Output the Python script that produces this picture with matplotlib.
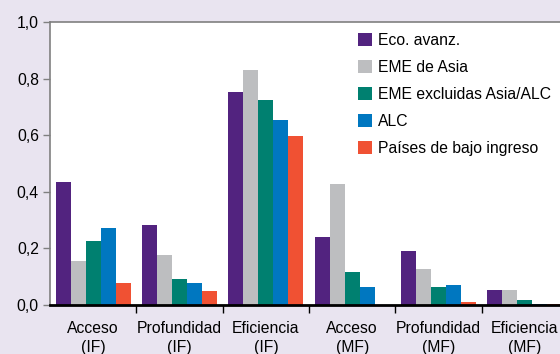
import numpy as np
import matplotlib.pyplot as plt
from matplotlib.patches import Patch

plt.rcParams['font.family'] = ['Liberation Sans', 'DejaVu Sans']

categories = ['Acceso\n(IF)', 'Profundidad\n(IF)', 'Eficiencia\n(IF)',
              'Acceso\n(MF)', 'Profundidad\n(MF)', 'Eficiencia\n(MF)']
series = ['Eco. avanz.', 'EME de Asia', 'EME excluidas Asia/ALC', 'ALC',
          'Países de bajo ingreso']
eco_avanz = [0.435, 0.283, 0.753, 0.240, 0.191, 0.053]
eme_asia = [0.155, 0.177, 0.830, 0.429, 0.127, 0.053]
eme_excl = [0.227, 0.092, 0.724, 0.117, 0.064, 0.018]
alc = [0.272, 0.078, 0.654, 0.064, 0.071, 0.004]
bajo_ingreso = [0.078, 0.049, 0.597, 0.0, 0.011, 0.004]
values = [eco_avanz, eme_asia, eme_excl, alc, bajo_ingreso]
colors = ['#52237F', '#BDBEC0', '#008070', '#0077C0', '#F05133']

W, H = 560, 354
fs = 11.3
fig = plt.figure(figsize=(W / 100, H / 100), dpi=100)
fig.patch.set_facecolor('#E9E4F0')
ax = fig.add_axes([50 / W, (H - 305) / H, 518 / W, 283 / H])

x = np.arange(len(categories))
bw = 0.173
for i, (vals, c) in enumerate(zip(values, colors)):
    ax.bar(x + (i - 2) * bw, vals, width=bw, color=c, linewidth=0)

ax.set_xlim(-0.5, len(categories) - 0.5)
ax.set_ylim(0, 1.0)
ax.set_yticks(np.arange(0, 1.01, 0.2))
ax.set_yticklabels([f'{v:.1f}'.replace('.', ',') for v in np.arange(0, 1.01, 0.2)])
ax.set_xticks(x[:-1] + 0.5)
ax.set_xticklabels([])
ax.set_xticks(x, minor=True)
ax.set_xticklabels(categories, minor=True, linespacing=1.35)
ax.tick_params(axis='x', which='minor', length=0, pad=11.5, labelsize=fs)
ax.tick_params(axis='x', which='major', length=6, width=1, direction='out')
ax.tick_params(axis='y', length=5, width=1, color='#808080', labelsize=fs, pad=3)

for s in ['left', 'top']:
    ax.spines[s].set_color('#808080')
    ax.spines[s].set_linewidth(1.2)
ax.spines['right'].set_visible(False)
ax.spines['bottom'].set_linewidth(2)
ax.spines['bottom'].set_color('black')

handles = [Patch(facecolor=c, label=s) for c, s in zip(colors, series)]
ax.legend(handles=handles, loc='upper left', bbox_to_anchor=(358 / W, 1 - 33 / H),
          bbox_transform=fig.transFigure, frameon=False, borderpad=0,
          borderaxespad=0, handlelength=0.9, handleheight=0.9,
          handletextpad=0.4, labelspacing=0.77, fontsize=fs)

fig.savefig('out.png', dpi=100, facecolor=fig.get_facecolor())
